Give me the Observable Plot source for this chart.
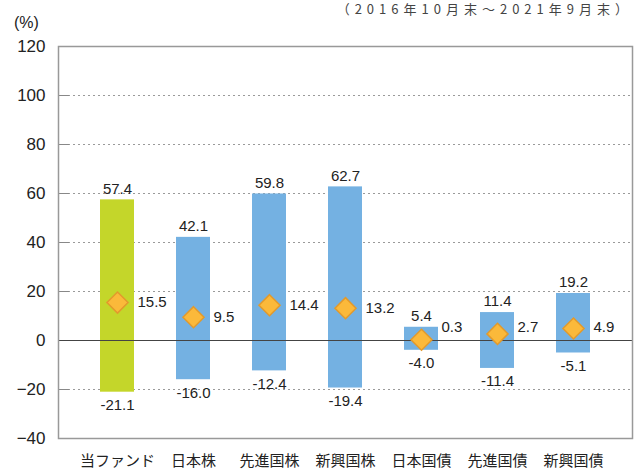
<!DOCTYPE html>
<html>
<head>
<meta charset="utf-8">
<script src="https://cdn.jsdelivr.net/npm/d3@7"></script>
<script src="https://cdn.jsdelivr.net/npm/@observablehq/plot@0.6"></script>
<style>
  html, body { margin: 0; padding: 0; background: #fff; }
  #wrap { position: relative; width: 637px; height: 472px; overflow: hidden; }
  #title { position: absolute; right: 4px; top: 1px; font: 13px/16px "Noto Sans CJK JP", sans-serif; letter-spacing: 5px; color: #444; white-space: nowrap; }
  #unit { position: absolute; left: 14px; top: 14px; font: 16px "Liberation Sans", sans-serif; color: #222; }
  svg { font-family: "Liberation Sans", "Noto Sans CJK JP", sans-serif; }
</style>
</head>
<body>
<div id="wrap">
  <div id="title">（2016年10月末～2021年9月末）</div>
  <div id="unit">(%)</div>
</div>
<script>
const categories = ["当ファンド", "日本株", "先進国株", "新興国株", "日本国債", "先進国債", "新興国債"];
const maxValues = [57.4, 42.1, 59.8, 62.7, 5.4, 11.4, 19.2];
const minValues = [-21.1, -16.0, -12.4, -19.4, -4.0, -11.4, -5.1];
const avgValues = [15.5, 9.5, 14.4, 13.2, 0.3, 2.7, 4.9];
const yTicks = [-40, -20, 0, 20, 40, 60, 80, 100, 120];
const gridValues = [-20, 20, 40, 60, 80, 100];

const data = categories.map((name, i) => ({
  name, max: maxValues[i], min: minValues[i], avg: avgValues[i],
  color: i === 0 ? "#c4d62a" : "#74b1e2"
}));

const chart = Plot.plot({
  width: 637,
  height: 472,
  marginLeft: 58,
  marginRight: 5,
  marginTop: 46,
  marginBottom: 34,
  x: { domain: categories, padding: 0.55, label: null },
  y: { domain: [-40, 120], label: null },
  color: { type: "identity" },
  marks: [
    Plot.gridY(gridValues, { stroke: "#9a9a9a", strokeOpacity: 1, strokeDasharray: "2,3" }),
    Plot.gridY(gridValues, { stroke: "#888", strokeOpacity: 1, insetRight: 563 }),
    Plot.barY(data, { x: "name", y1: "min", y2: "max", fill: "color" }),
    Plot.ruleY([0], { stroke: "#444", strokeWidth: 1 }),
    Plot.frame({ stroke: "#999", strokeWidth: 1.5 }),
    Plot.dot(data, { x: "name", y: "avg", symbol: "diamond2", r: 9.5, fill: "#fbb93a", stroke: "#e29a2c", strokeWidth: 1.5 }),
    Plot.text(data, { x: "name", y: "max", text: d => d.max.toFixed(1), dy: -11, fontSize: 15, fill: "#222" }),
    Plot.text(data, { x: "name", y: "min", text: d => d.min.toFixed(1), dy: 13, fontSize: 15, fill: "#222" }),
    Plot.text(data, { x: "name", y: d => Math.max(d.avg, 5.5), text: d => d.avg.toFixed(1), dx: 20, textAnchor: "start", fontSize: 15, fill: "#222" }),
    Plot.axisY({ ticks: yTicks, tickSize: 0, tickPadding: 13, fontSize: 17, label: null, color: "#222" }),
    Plot.axisX({ tickSize: 0, tickPadding: 17, fontSize: 15, label: null, fontFamily: "Noto Sans CJK JP", color: "#222" })
  ]
});
document.getElementById("wrap").prepend(chart);
</script>
</body>
</html>
